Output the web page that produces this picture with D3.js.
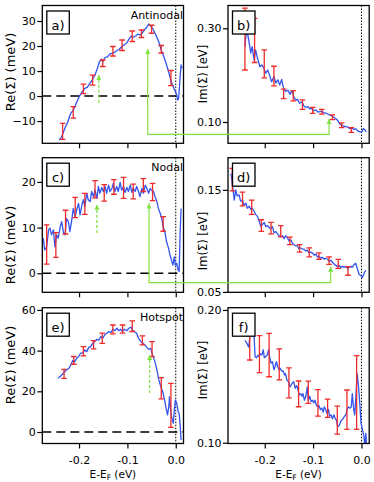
<!DOCTYPE html>
<html>
<head>
<meta charset="utf-8">
<script src="https://cdn.jsdelivr.net/npm/d3@7"></script>
<style>
  body { margin: 0; background: #fff; }
  text { font-family: "DejaVu Sans", sans-serif; fill: #000; }
</style>
</head>
<body>
<div id="chart"></div>
<script>
var W = 374, H = 482;

// ---- data (x in eV, y in meV for Re, eV for Im) ----
var xTicks = [-0.2, -0.1, 0.0];

var antinodalRe = [[-0.241,-17.6],[-0.236,-16.3],[-0.232,-14.3],[-0.228,-12.3],[-0.223,-10.3],[-0.220,-8.3],[-0.217,-6.9],[-0.212,-5.6],[-0.208,-4.0],[-0.203,-1.6],[-0.198,0.4],[-0.192,2.1],[-0.188,3.1],[-0.183,3.5],[-0.177,5.3],[-0.172,6.7],[-0.167,8.4],[-0.162,11.1],[-0.158,13.7],[-0.154,14.7],[-0.151,13.7],[-0.146,15.5],[-0.141,15.7],[-0.137,16.8],[-0.132,17.1],[-0.128,17.3],[-0.122,18.1],[-0.117,18.7],[-0.112,19.7],[-0.107,20.4],[-0.101,21.3],[-0.097,22.7],[-0.092,24.0],[-0.088,23.5],[-0.083,24.0],[-0.078,24.8],[-0.074,24.4],[-0.069,25.3],[-0.065,26.4],[-0.060,27.5],[-0.056,28.8],[-0.052,28.0],[-0.048,27.1],[-0.043,25.1],[-0.039,23.5],[-0.034,21.1],[-0.030,18.4],[-0.026,16.4],[-0.021,13.7],[-0.017,11.1],[-0.012,7.7],[-0.008,5.1],[-0.003,2.7],[0.001,1.1],[0.004,-1.6],[0.006,-0.9],[0.009,7.7],[0.011,12.4],[0.013,11.1]];
var antinodalReErr = [[-0.234,-14.1,3.2],[-0.212,-6.5,2.3],[-0.191,2.9,1.9],[-0.172,6.4,2.0],[-0.151,13.1,1.3],[-0.130,17.9,1.9],[-0.111,20.3,2.1],[-0.090,23.9,2.1],[-0.071,24.9,1.5],[-0.050,26.7,1.6],[-0.030,18.7,1.5],[-0.010,7.2,3.0]];

var antinodalIm = [[-0.241,0.261],[-0.238,0.293],[-0.235,0.286],[-0.232,0.268],[-0.229,0.247],[-0.226,0.261],[-0.222,0.232],[-0.219,0.254],[-0.215,0.236],[-0.210,0.218],[-0.206,0.222],[-0.202,0.215],[-0.198,0.204],[-0.194,0.211],[-0.190,0.200],[-0.186,0.186],[-0.181,0.197],[-0.177,0.183],[-0.173,0.190],[-0.169,0.179],[-0.165,0.191],[-0.161,0.172],[-0.157,0.165],[-0.152,0.168],[-0.148,0.159],[-0.144,0.167],[-0.140,0.154],[-0.136,0.147],[-0.132,0.148],[-0.128,0.140],[-0.123,0.143],[-0.119,0.134],[-0.115,0.131],[-0.111,0.133],[-0.107,0.128],[-0.103,0.129],[-0.099,0.124],[-0.094,0.126],[-0.090,0.121],[-0.086,0.122],[-0.082,0.123],[-0.078,0.120],[-0.074,0.119],[-0.070,0.117],[-0.066,0.115],[-0.061,0.113],[-0.057,0.110],[-0.053,0.107],[-0.049,0.103],[-0.045,0.096],[-0.041,0.094],[-0.037,0.091],[-0.032,0.090],[-0.028,0.089],[-0.024,0.086],[-0.020,0.087],[-0.016,0.084],[-0.012,0.086],[-0.008,0.081],[-0.003,0.079],[0.001,0.079],[0.004,0.086],[0.007,0.083],[0.010,0.079]];
var antinodalImErr = [[-0.241,0.277,0.066],[-0.221,0.274,0.047],[-0.201,0.224,0.030],[-0.181,0.198,0.021],[-0.161,0.160,0.010],[-0.141,0.156,0.011],[-0.122,0.137,0.010],[-0.101,0.125,0.0064],[-0.082,0.122,0.005],[-0.060,0.110,0.005],[-0.041,0.093,0.005],[-0.021,0.083,0.005]];

var nodalRe = [[-0.274,7.7],[-0.271,5.1],[-0.267,5.8],[-0.263,9.5],[-0.260,9.9],[-0.257,8.4],[-0.253,9.5],[-0.250,5.8],[-0.246,8.4],[-0.243,7.7],[-0.239,10.2],[-0.236,11.3],[-0.232,8.8],[-0.229,8.4],[-0.226,12.0],[-0.222,11.3],[-0.219,9.1],[-0.215,11.7],[-0.212,14.2],[-0.208,12.4],[-0.205,13.9],[-0.201,15.3],[-0.198,12.8],[-0.194,15.0],[-0.191,16.1],[-0.188,14.6],[-0.184,17.5],[-0.181,16.1],[-0.177,15.7],[-0.174,17.9],[-0.170,16.8],[-0.167,18.2],[-0.163,16.4],[-0.160,19.0],[-0.157,17.5],[-0.153,18.8],[-0.150,17.9],[-0.146,19.0],[-0.143,17.5],[-0.139,19.3],[-0.136,17.9],[-0.132,18.6],[-0.129,19.7],[-0.126,17.9],[-0.122,19.0],[-0.119,17.9],[-0.115,19.9],[-0.112,18.2],[-0.108,19.0],[-0.105,17.7],[-0.101,18.8],[-0.098,17.9],[-0.094,19.3],[-0.091,17.7],[-0.088,18.6],[-0.084,17.9],[-0.081,19.0],[-0.077,17.9],[-0.074,16.8],[-0.070,18.6],[-0.067,17.5],[-0.063,19.3],[-0.060,18.6],[-0.056,17.5],[-0.053,18.6],[-0.050,18.2],[-0.046,17.9],[-0.043,16.8],[-0.039,15.7],[-0.036,14.2],[-0.032,13.1],[-0.029,12.0],[-0.026,10.2],[-0.022,8.8],[-0.019,6.9],[-0.015,5.5],[-0.012,4.0],[-0.008,2.6],[-0.006,1.8],[-0.003,3.6],[-0.001,1.8],[0.002,2.2],[0.005,0.7],[0.007,0.4],[0.009,8.8],[0.011,14.2]];
var nodalReErr = [[-0.267,6.3,4.3],[-0.248,6.2,2.7],[-0.228,11.2,2.6],[-0.208,14.4,2.2],[-0.188,15.2,2.3],[-0.167,18.4,1.9],[-0.148,17.6,1.8],[-0.128,18.9,1.6],[-0.108,18.7,2.3],[-0.088,17.9,1.6],[-0.067,19.3,1.4],[-0.048,17.8,1.9],[-0.026,10.8,1.6]];

var nodalIm = [[-0.270,0.166],[-0.267,0.156],[-0.263,0.140],[-0.260,0.150],[-0.257,0.144],[-0.253,0.145],[-0.250,0.139],[-0.246,0.140],[-0.243,0.135],[-0.239,0.137],[-0.236,0.132],[-0.232,0.134],[-0.229,0.131],[-0.226,0.132],[-0.222,0.129],[-0.219,0.126],[-0.215,0.124],[-0.212,0.120],[-0.208,0.114],[-0.205,0.116],[-0.201,0.118],[-0.198,0.114],[-0.194,0.115],[-0.191,0.113],[-0.188,0.112],[-0.184,0.114],[-0.181,0.108],[-0.177,0.109],[-0.174,0.107],[-0.170,0.105],[-0.167,0.104],[-0.163,0.105],[-0.160,0.102],[-0.157,0.105],[-0.153,0.103],[-0.150,0.100],[-0.146,0.101],[-0.143,0.098],[-0.139,0.096],[-0.136,0.095],[-0.132,0.095],[-0.129,0.092],[-0.126,0.093],[-0.122,0.092],[-0.119,0.092],[-0.115,0.090],[-0.112,0.091],[-0.108,0.088],[-0.105,0.089],[-0.101,0.088],[-0.098,0.086],[-0.094,0.087],[-0.091,0.084],[-0.088,0.085],[-0.084,0.083],[-0.081,0.084],[-0.077,0.082],[-0.074,0.083],[-0.070,0.082],[-0.067,0.080],[-0.063,0.081],[-0.060,0.079],[-0.056,0.077],[-0.053,0.076],[-0.050,0.075],[-0.046,0.076],[-0.043,0.074],[-0.039,0.075],[-0.036,0.074],[-0.032,0.075],[-0.029,0.073],[-0.026,0.074],[-0.022,0.075],[-0.019,0.074],[-0.015,0.077],[-0.012,0.078],[-0.008,0.072],[-0.005,0.067],[-0.001,0.066],[0.002,0.064],[0.006,0.069],[0.009,0.071]];
var nodalImErr = [[-0.267,0.160,0.011],[-0.246,0.141,0.0068],[-0.227,0.133,0.007],[-0.207,0.115,0.0057],[-0.187,0.1125,0.0057],[-0.167,0.1094,0.0055],[-0.148,0.100,0.0037],[-0.128,0.0927,0.0037],[-0.108,0.0888,0.0044],[-0.088,0.085,0.0032],[-0.067,0.0807,0.0037],[-0.048,0.0774,0.0044],[-0.028,0.0705,0.0042]];

var hotspotRe = [[-0.243,26.4],[-0.238,27.5],[-0.234,28.5],[-0.229,29.7],[-0.226,30.5],[-0.221,31.3],[-0.217,33.0],[-0.213,35.1],[-0.209,34.6],[-0.205,36.2],[-0.201,37.0],[-0.197,38.7],[-0.192,39.0],[-0.188,40.3],[-0.184,39.5],[-0.180,41.6],[-0.176,42.0],[-0.172,43.6],[-0.168,44.4],[-0.163,45.6],[-0.159,45.2],[-0.155,46.9],[-0.151,46.1],[-0.147,47.7],[-0.143,48.5],[-0.139,49.3],[-0.134,49.0],[-0.130,50.5],[-0.126,49.8],[-0.122,51.0],[-0.118,49.8],[-0.114,50.5],[-0.110,49.3],[-0.106,50.5],[-0.101,49.8],[-0.097,51.0],[-0.093,51.5],[-0.089,50.2],[-0.085,49.3],[-0.081,48.5],[-0.077,46.1],[-0.072,44.4],[-0.068,43.6],[-0.064,42.8],[-0.060,41.6],[-0.056,40.7],[-0.052,41.1],[-0.048,37.9],[-0.043,34.6],[-0.039,30.5],[-0.035,25.6],[-0.031,22.3],[-0.027,19.8],[-0.023,15.7],[-0.020,11.6],[-0.017,8.4],[-0.014,13.3],[-0.013,17.4],[-0.010,9.2],[-0.008,6.7],[-0.005,4.3],[-0.003,10.8],[-0.001,15.7],[0.002,14.1],[0.005,10.0],[0.007,9.2],[0.009,3.4],[0.011,-3.9]];
var hotspotReErr = [[-0.231,28.6,2.2],[-0.211,35.2,1.9],[-0.191,39.7,2.3],[-0.170,42.9,2.0],[-0.152,46.1,2.5],[-0.130,50.4,2.2],[-0.110,50.6,2.0],[-0.090,52.0,2.6],[-0.069,45.0,2.2],[-0.049,40.7,3.7],[-0.030,21.5,5.2],[-0.010,13.1,10.8]];

var hotspotIm = [[-0.241,0.177],[-0.237,0.175],[-0.233,0.172],[-0.230,0.184],[-0.227,0.192],[-0.224,0.194],[-0.222,0.180],[-0.220,0.165],[-0.217,0.164],[-0.214,0.166],[-0.212,0.165],[-0.209,0.167],[-0.206,0.166],[-0.203,0.170],[-0.201,0.164],[-0.198,0.165],[-0.195,0.166],[-0.192,0.170],[-0.190,0.165],[-0.187,0.160],[-0.184,0.161],[-0.181,0.155],[-0.179,0.157],[-0.176,0.161],[-0.173,0.157],[-0.170,0.155],[-0.168,0.156],[-0.165,0.154],[-0.162,0.154],[-0.159,0.151],[-0.157,0.152],[-0.154,0.147],[-0.151,0.146],[-0.148,0.142],[-0.146,0.143],[-0.143,0.145],[-0.140,0.146],[-0.137,0.141],[-0.134,0.143],[-0.132,0.141],[-0.129,0.136],[-0.126,0.137],[-0.123,0.135],[-0.121,0.137],[-0.118,0.132],[-0.115,0.135],[-0.112,0.142],[-0.110,0.132],[-0.107,0.135],[-0.104,0.131],[-0.101,0.132],[-0.099,0.130],[-0.096,0.132],[-0.093,0.128],[-0.090,0.127],[-0.088,0.128],[-0.085,0.125],[-0.082,0.126],[-0.079,0.123],[-0.077,0.127],[-0.074,0.125],[-0.071,0.122],[-0.068,0.125],[-0.066,0.120],[-0.063,0.121],[-0.060,0.118],[-0.057,0.121],[-0.054,0.118],[-0.052,0.117],[-0.049,0.112],[-0.046,0.113],[-0.043,0.116],[-0.041,0.117],[-0.038,0.118],[-0.035,0.120],[-0.032,0.121],[-0.030,0.125],[-0.027,0.127],[-0.024,0.126],[-0.021,0.127],[-0.019,0.137],[-0.016,0.125],[-0.014,0.121],[-0.012,0.132],[-0.009,0.152],[-0.006,0.142],[-0.003,0.127],[-0.001,0.115],[0.002,0.110],[0.005,0.105],[0.007,0.097],[0.009,0.107],[0.011,0.097]];
var hotspotImErr = [[-0.231,0.173,0.0107],[-0.211,0.1667,0.0139],[-0.191,0.166,0.0163],[-0.170,0.159,0.0117],[-0.150,0.145,0.0113],[-0.130,0.1368,0.0097],[-0.110,0.138,0.0084],[-0.090,0.130,0.010],[-0.070,0.126,0.0069],[-0.050,0.117,0.0106],[-0.030,0.1249,0.0148],[-0.010,0.1378,0.0278]];

// green markers: dashed arrows [x, yFrom, yTo] and connecting arrows
var dashedArrowA = [-0.159, -2.7, 8.4];
var dashedArrowC = [-0.163, 8.8, 15.0];
var dashedArrowE = [-0.054, 19.2, 37.9];
// [xRe, yReBase, yReTip, xIm, yImTip]
var linkAB = [-0.058, -15.3, 18.8, -0.067, 0.1064];
var linkCD = [-0.0553, -2.06, 15.3, -0.0636, 0.0747];

var blue = "#3355ee", red = "#ee2a2a", green = "#80e040";
var xDomain = [-0.276, 0.016];

var svg = d3.select("#chart").append("svg")
    .attr("width", W)
    .attr("height", H);

var defs = svg.append("defs");
defs.append("marker")
    .attr("id", "arrow")
    .attr("viewBox", "0 0 10 10")
    .attr("refX", 10).attr("refY", 5)
    .attr("markerWidth", 7).attr("markerHeight", 5)
    .attr("markerUnits", "userSpaceOnUse")
    .attr("orient", "auto-start-reverse")
  .append("path")
    .attr("d", "M0,0L10,5L0,10z")
    .attr("fill", green);

var panels = [
  {key: "a", left: 42.3, top: 5.5, bottom: 143.3, ydom: [-18.9, 36.2], ticks: [-10, 0, 10, 20, 30], fmt: d3.format("d"),
   line: antinodalRe, err: antinodalReErr, zero: true, name: "Antinodal", title: "Re(\u03a3) (meV)", titleY: 72, dashed: dashedArrowA},
  {key: "b", left: 228, top: 5.5, bottom: 143.3, ydom: [0.0545, 0.3487], ticks: [0.10, 0.30], fmt: d3.format(".2f"),
   line: antinodalIm, err: antinodalImErr, title: "Im(\u03a3) [eV]", titleY: 74},
  {key: "c", left: 42.3, top: 157.7, bottom: 292.3, ydom: [-4.16, 25.3], ticks: [0, 10, 20], fmt: d3.format("d"),
   line: nodalRe, err: nodalReErr, zero: true, name: "Nodal", title: "Re(\u03a3) (meV)", titleY: 245, dashed: dashedArrowC},
  {key: "d", left: 228, top: 157.7, bottom: 292.3, ydom: [0.0496, 0.1815], ticks: [0.05, 0.15], fmt: d3.format(".2f"),
   line: nodalIm, err: nodalImErr, title: "Im(\u03a3) [eV]", titleY: 241},
  {key: "e", left: 42.3, top: 307.7, bottom: 443.5, ydom: [-5.66, 61.1], ticks: [0, 20, 40, 60], fmt: d3.format("d"),
   line: hotspotRe, err: hotspotReErr, zero: true, name: "Hotspot", title: "Re(\u03a3) (meV)", titleY: 365, dashed: dashedArrowE, xlab: true},
  {key: "f", left: 228, top: 307.7, bottom: 443.5, ydom: [0.0994, 0.2017], ticks: [0.10, 0.20], fmt: d3.format(".2f"),
   line: hotspotIm, err: hotspotImErr, title: "Im(\u03a3) [eV]", titleY: 370, xlab: true}
];
var pw = 141.2;

panels.forEach(function(p) {
  var h = p.bottom - p.top;
  var x = d3.scaleLinear().domain(xDomain).range([0, pw]);
  var y = d3.scaleLinear().domain(p.ydom).range([h, 0]);
  p.x = x; p.y = y;

  var g = svg.append("g").attr("transform", "translate(" + p.left + "," + p.top + ")");

  defs.append("clipPath").attr("id", "clip-" + p.key)
    .append("rect").attr("width", pw).attr("height", h);

  // y axis
  var ya = g.append("g")
    .call(d3.axisLeft(y).tickValues(p.ticks).tickSize(5).tickSizeOuter(0).tickPadding(1.5).tickFormat(p.fmt));
  ya.select(".domain").remove();
  ya.selectAll("line").attr("stroke-width", 1.2);
  ya.selectAll("text").style("font-size", "11px").style("font-family", "DejaVu Sans");

  // x axis
  var xa = g.append("g").attr("transform", "translate(0," + h + ")")
    .call(d3.axisBottom(x).tickValues(xTicks).tickSize(5).tickSizeOuter(0).tickPadding(7.5)
      .tickFormat(p.xlab ? function(d) { return d.toFixed(1); } : ""));
  xa.select(".domain").remove();
  xa.selectAll("line").attr("stroke-width", 1.2);
  xa.selectAll("text").style("font-size", "11px").style("font-family", "DejaVu Sans");

  var plot = g.append("g").attr("clip-path", "url(#clip-" + p.key + ")");

  // zero line
  if (p.zero) {
    plot.append("line")
      .attr("x1", 0).attr("x2", pw)
      .attr("y1", y(0)).attr("y2", y(0))
      .attr("stroke", "#000").attr("stroke-width", 1.5)
      .attr("stroke-dasharray", "9,5");
  }
  // Fermi level
  plot.append("line")
    .attr("x1", x(0)).attr("x2", x(0))
    .attr("y1", 0).attr("y2", h)
    .attr("stroke", "#000").attr("stroke-width", 1)
    .attr("stroke-dasharray", "1.5,1.5");

  // data curve
  plot.append("path")
    .datum(p.line)
    .attr("fill", "none")
    .attr("stroke", blue)
    .attr("stroke-width", 1.3)
    .attr("stroke-linejoin", "round")
    .attr("d", d3.line().x(function(d) { return x(d[0]); }).y(function(d) { return y(d[1]); }));

  // error bars
  var eb = plot.selectAll(".eb").data(p.err).enter().append("g")
    .attr("stroke", red).attr("stroke-width", 1.3);
  eb.append("line")
    .attr("x1", function(d) { return x(d[0]); }).attr("x2", function(d) { return x(d[0]); })
    .attr("y1", function(d) { return y(d[1] - d[2]); }).attr("y2", function(d) { return y(d[1] + d[2]); });
  [-1, 1].forEach(function(s) {
    eb.append("line")
      .attr("x1", function(d) { return x(d[0]) - 2.8; }).attr("x2", function(d) { return x(d[0]) + 2.8; })
      .attr("y1", function(d) { return y(d[1] + s * d[2]); }).attr("y2", function(d) { return y(d[1] + s * d[2]); });
  });

  // dashed green arrow
  if (p.dashed) {
    g.append("line")
      .attr("x1", x(p.dashed[0])).attr("x2", x(p.dashed[0]))
      .attr("y1", y(p.dashed[1])).attr("y2", y(p.dashed[2]))
      .attr("stroke", green).attr("stroke-width", 1.2)
      .attr("stroke-dasharray", "3,2")
      .attr("marker-end", "url(#arrow)");
  }

  // frame
  g.append("rect")
    .attr("width", pw).attr("height", h)
    .attr("fill", "none").attr("stroke", "#000").attr("stroke-width", 1.3);

  // panel letter box
  g.append("rect")
    .attr("x", 4.5).attr("y", 5.5).attr("width", 22.5).attr("height", 23)
    .attr("fill", "#fff").attr("stroke", "#000").attr("stroke-width", 1.3);
  g.append("text")
    .attr("x", 15.7).attr("y", 24)
    .attr("text-anchor", "middle")
    .style("font-size", "13px")
    .text(p.key + ")");

  if (p.name) {
    g.append("text")
      .attr("x", pw - 0.5).attr("y", 13.5)
      .attr("text-anchor", "end")
      .style("font-size", "11px")
      .text(p.name);
  }

  // y title
  var tx = p.left < 100 ? 10 : 203.3;
  svg.append("text")
    .attr("transform", "translate(" + tx + "," + p.titleY + ") rotate(-90)")
    .attr("text-anchor", "middle")
    .attr("dominant-baseline", "central")
    .style("font-size", p.left < 100 ? "13px" : "11.5px")
    .text(p.title);

  // x title
  if (p.xlab) {
    var t = svg.append("text")
      .attr("x", p.left + pw / 2).attr("y", 477.5)
      .attr("text-anchor", "middle")
      .style("font-size", "10.5px");
    t.append("tspan").text("E-E");
    t.append("tspan").attr("dy", 2).style("font-size", "7.5px").text("F");
    t.append("tspan").attr("dy", -2).text(" (eV)");
  }
});

// green links between Re and Im panels
function link(pr, pi, v) {
  var ax = pr.left + pr.x(v[0]);
  var ay0 = pr.top + pr.y(v[1]);
  var ay1 = pr.top + pr.y(v[2]);
  var bx = pi.left + pi.x(v[3]);
  var by = pi.top + pi.y(v[4]);
  svg.append("path")
    .attr("d", "M" + ax + "," + ay1 + "L" + ax + "," + ay0 + "L" + bx + "," + ay0 + "L" + bx + "," + by)
    .attr("fill", "none")
    .attr("stroke", green).attr("stroke-width", 1.2)
    .attr("marker-start", "url(#arrow)")
    .attr("marker-end", "url(#arrow)");
}
link(panels[0], panels[1], linkAB);
link(panels[2], panels[3], linkCD);
</script>
</body>
</html>
